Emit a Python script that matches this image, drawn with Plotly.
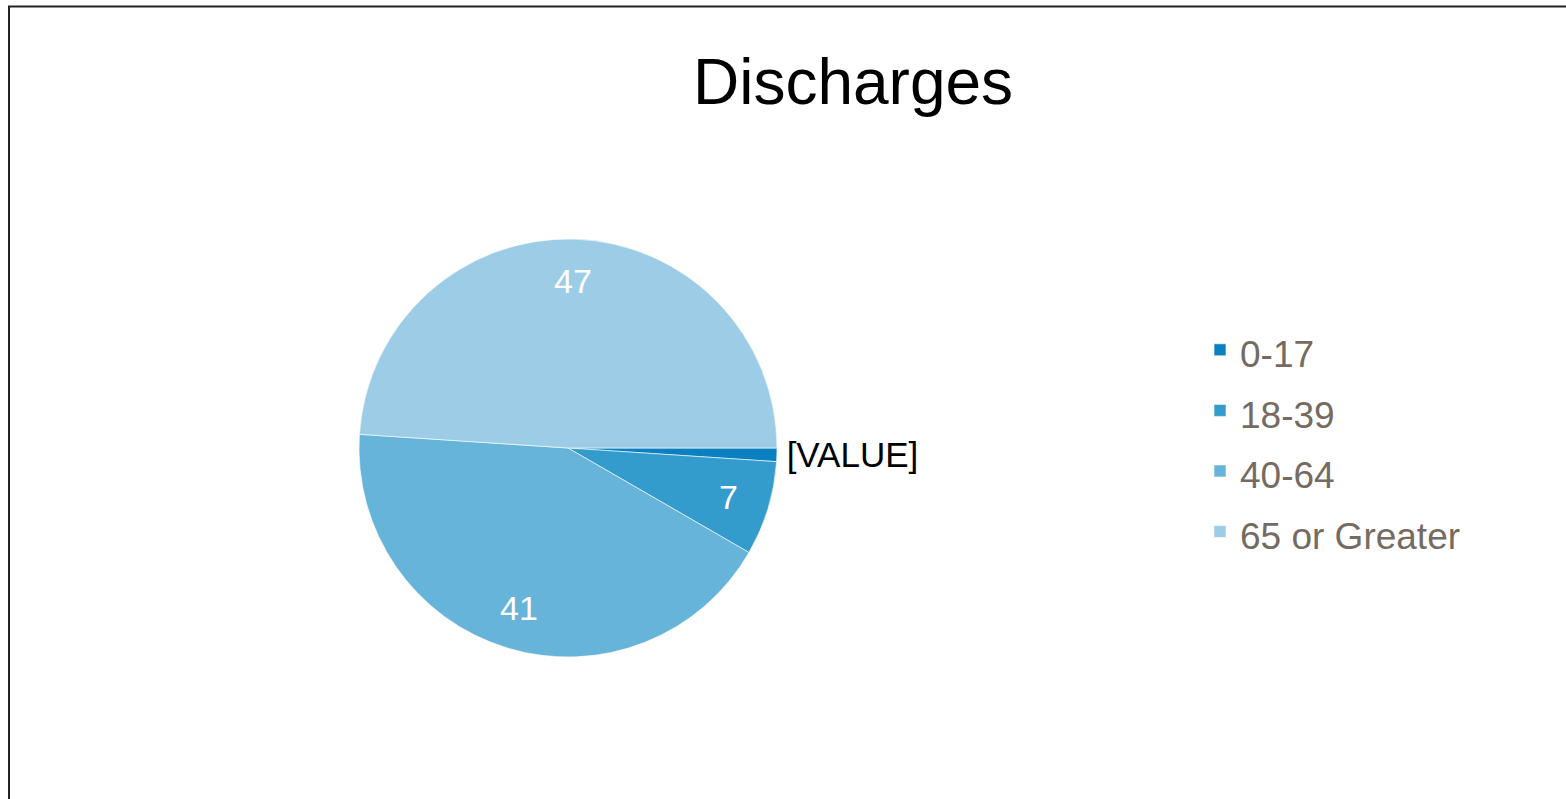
import math
import plotly.graph_objects as go

categories = ["0-17", "18-39", "40-64", "65 or Greater"]
values = [1, 7, 41, 47]
colors = ["#0a80c0", "#339ccd", "#66b4da", "#9dcde6"]
label_templates = ["[VALUE]", "", "", ""]
text_positions = ["outside", "none", "none", "none"]
inside_label_slices = [1, 2, 3]
title_text = "Discharges"

W, H = 1566, 799

dom_x = [(568 - 209) / W, (568 + 209) / W]
dom_y = [(351 - 209) / H, (351 + 209) / H]

fig = go.Figure(
    go.Pie(
        labels=[f"<span style='font-size:37px'>{c}</span>" for c in categories],
        values=values,
        sort=False,
        direction="clockwise",
        rotation=90,
        marker=dict(colors=colors, line=dict(color="rgba(255,255,255,0.6)", width=1)),
        texttemplate=label_templates,
        textposition=text_positions,
        outsidetextfont=dict(color="black", size=35, family="Liberation Sans Narrow, Liberation Sans, Arial, sans-serif"),
        domain=dict(x=dom_x, y=dom_y),
        hoverinfo="label+value",
    )
)

# inside value labels, placed along each slice's mid angle
total = sum(values)
cx = (dom_x[0] + dom_x[1]) / 2
cy = (dom_y[0] + dom_y[1]) / 2
rx = (dom_x[1] - dom_x[0]) / 2
ry = (dom_y[1] - dom_y[0]) / 2
label_r = 0.8
cum = 0.0
annotations = []
for i, v in enumerate(values):
    mid = (cum + v / 2) / total * 2 * math.pi  # clockwise from 3 o'clock
    cum += v
    if i in inside_label_slices:
        annotations.append(
            dict(
                x=cx + label_r * rx * math.cos(mid),
                y=cy - label_r * ry * math.sin(mid),
                xref="paper",
                yref="paper",
                text=str(v),
                showarrow=False,
                xanchor="center",
                yanchor="middle",
                font=dict(color="white", size=34, family="Liberation Sans, Arial, sans-serif"),
            )
        )

fig.update_layout(
    width=W,
    height=H,
    margin=dict(l=0, r=0, t=0, b=0),
    paper_bgcolor="white",
    plot_bgcolor="white",
    title=dict(
        text=title_text,
        x=853 / W,
        xanchor="center",
        y=1 - 82 / H,
        yanchor="middle",
        font=dict(family="Liberation Sans, Arial, sans-serif", size=64, color="black"),
    ),
    legend=dict(
        x=1200 / W,
        xanchor="left",
        y=1 - 441 / H,
        yanchor="middle",
        font=dict(family="Liberation Sans, Arial, sans-serif", size=44.3, color="#756b62"),
        bgcolor="rgba(0,0,0,0)",
    ),
    annotations=annotations,
    shapes=[
        dict(
            type="rect",
            xref="paper",
            yref="paper",
            x0=9 / W,
            x1=1.02,
            y0=-0.02,
            y1=1 - 6.5 / H,
            line=dict(color="#222222", width=2),
            fillcolor="rgba(0,0,0,0)",
        )
    ],
)

fig.write_html(
    "out.html",
    config={"displayModeBar": False},
    post_script="document.body.style.margin='0';",
)
